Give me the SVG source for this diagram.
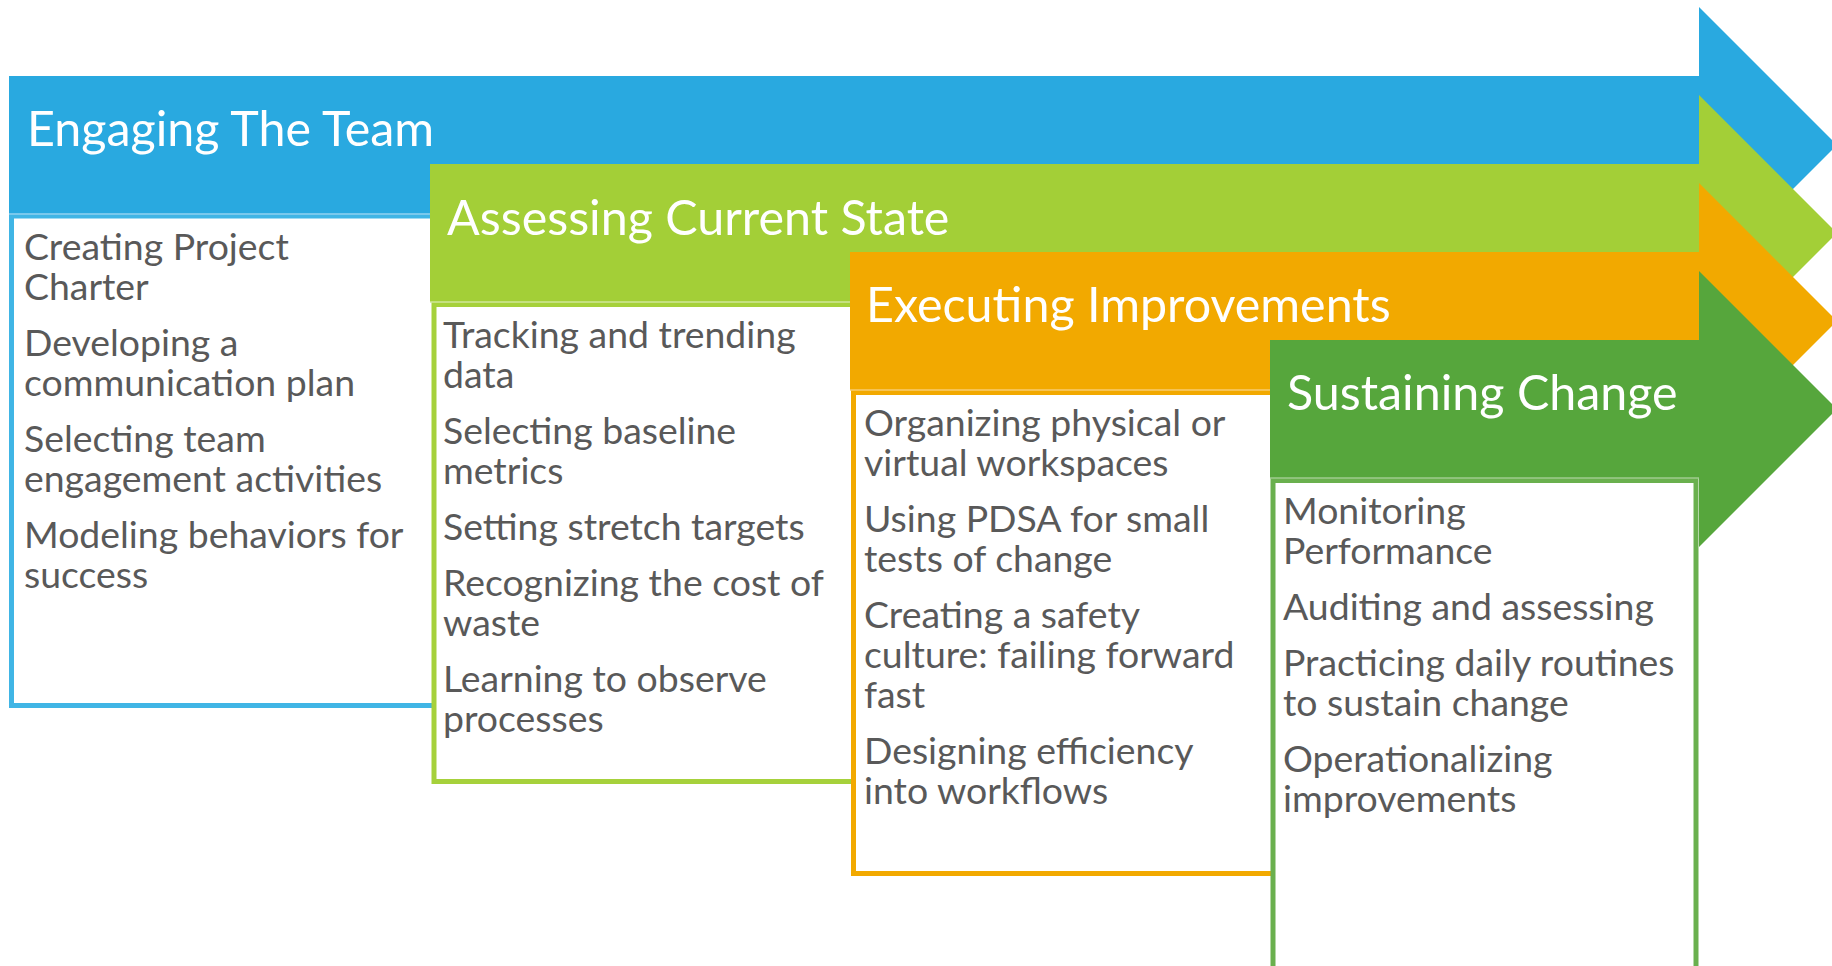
<svg xmlns="http://www.w3.org/2000/svg" width="1832" height="966" viewBox="0 0 1832 966">
  <style>
    .title { font-family: Lato, "Open Sans", "Liberation Sans", sans-serif; font-size: 48.4px; fill: #ffffff; }
    .item { font-family: Lato, "Open Sans", "Liberation Sans", sans-serif; font-size: 37.4px; fill: #595959; }
    .box { fill: #ffffff; stroke-width: 5; }
    .edge { stroke-width: 1.5; }
  </style>
  <rect width="1832" height="966" fill="#ffffff"/>

  <!-- Phase 1 -->
  <g id="engaging-the-team">
    <path d="M9,76 H1699 V7 L1837,145 L1699,283 V214 H9 Z" fill="#29a9e0"/>
    <rect class="box" x="11.5" y="216" width="424" height="489.5" stroke="#40b5e5"/>
    <line class="edge" x1="9" y1="214" x2="436" y2="214" stroke="#8fd0ef"/>
    <text class="title" x="27" y="146">Engaging The Team</text>
    <text class="item" x="24" y="260">Creating Project<tspan x="24" dy="40">Charter</tspan></text>
    <text class="item" x="24" y="356">Developing a<tspan x="24" dy="40">communication plan</tspan></text>
    <text class="item" x="24" y="452">Selecting team<tspan x="24" dy="40">engagement activities</tspan></text>
    <text class="item" x="24" y="548">Modeling behaviors for<tspan x="24" dy="40">success</tspan></text>
  </g>

  <!-- Phase 2 -->
  <g id="assessing-current-state">
    <path d="M430,164 H1699 V95 L1837,233 L1699,371 V302 H430 Z" fill="#a3cf37"/>
    <rect class="box" x="434" y="304.5" width="424" height="477" stroke="#a6d13b"/>
    <line class="edge" x1="430" y1="302" x2="856" y2="302" stroke="#cfe69a"/>
    <text class="title" x="447" y="235">Assessing Current State</text>
    <text class="item" x="443" y="348">Tracking and trending<tspan x="443" dy="40">data</tspan></text>
    <text class="item" x="443" y="444">Selecting baseline<tspan x="443" dy="40">metrics</tspan></text>
    <text class="item" x="443" y="540">Setting stretch targets</text>
    <text class="item" x="443" y="596">Recognizing the cost of<tspan x="443" dy="40">waste</tspan></text>
    <text class="item" x="443" y="692">Learning to observe<tspan x="443" dy="40">processes</tspan></text>
  </g>

  <!-- Phase 3 -->
  <g id="executing-improvements">
    <path d="M850,252 H1699 V183 L1837,321 L1699,459 V390 H850 Z" fill="#f2a900"/>
    <rect class="box" x="853.5" y="392.5" width="424" height="481" stroke="#f2a900"/>
    <line class="edge" x1="850" y1="390" x2="1276" y2="390" stroke="#f7cd70"/>
    <text class="title" x="866" y="322">Executing Improvements</text>
    <text class="item" x="864" y="436">Organizing physical or<tspan x="864" dy="40">virtual workspaces</tspan></text>
    <text class="item" x="864" y="532">Using PDSA for small<tspan x="864" dy="40">tests of change</tspan></text>
    <text class="item" x="864" y="628">Creating a safety<tspan x="864" dy="40">culture: failing forward</tspan><tspan x="864" dy="40">fast</tspan></text>
    <text class="item" x="864" y="764">Designing efficiency<tspan x="864" dy="40">into workflows</tspan></text>
  </g>

  <!-- Phase 4 -->
  <g id="sustaining-change">
    <path d="M1270,340 H1699 V271 L1837,409 L1699,547 V478 H1270 Z" fill="#56a63c"/>
    <rect class="box" x="1273" y="480.5" width="423" height="500" stroke="#6ab04e"/>
    <line class="edge" x1="1270" y1="478" x2="1699" y2="478" stroke="#9fcb8e"/>
    <text class="title" x="1287" y="410">Sustaining Change</text>
    <text class="item" x="1283" y="524">Monitoring<tspan x="1283" dy="40">Performance</tspan></text>
    <text class="item" x="1283" y="620">Auditing and assessing</text>
    <text class="item" x="1283" y="676">Practicing daily routines<tspan x="1283" dy="40">to sustain change</tspan></text>
    <text class="item" x="1283" y="772">Operationalizing<tspan x="1283" dy="40">improvements</tspan></text>
  </g>
</svg>
